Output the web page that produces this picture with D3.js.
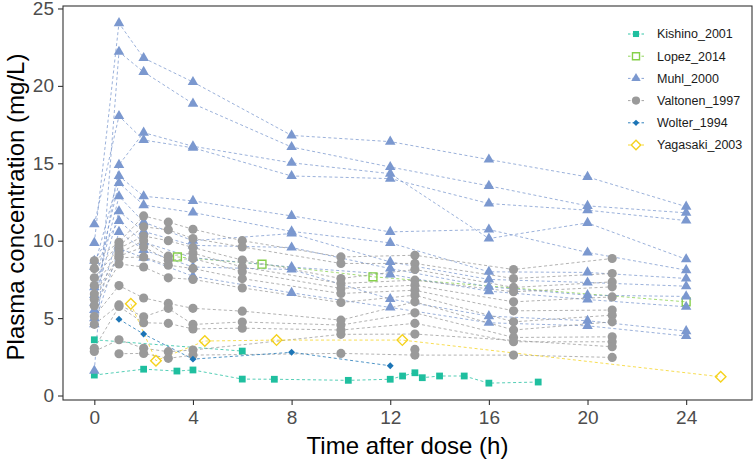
<!DOCTYPE html>
<html><head><meta charset="utf-8">
<script src="https://cdn.jsdelivr.net/npm/d3@7"></script>
<style>body{margin:0;background:#fff}svg{display:block;font-family:"Liberation Sans",Arial,sans-serif}</style>
</head><body><svg id="c" width="754" height="462"></svg>
<script>
// ---- data ----
const studies = ["Kishino_2001","Lopez_2014","Muhl_2000","Valtonen_1997","Wolter_1994","Yagasaki_2003"];
const colors = ["#1fbf9f","#86d04a","#7b98cf","#9a9a9a","#1c75b6","#f5d21c"];
const xTicks = [0,4,8,12,16,20,24];
const yTicks = [0,5,10,15,20,25];

const kishinoTimes = [[0,2,3.35,4,6,7.3,10.3,12,12.5,13,13.3,14,15,16,18],[0,6]];
const kishinoValues = [[1.32,1.7,1.58,1.65,1.06,1.05,0.98,1.05,1.26,1.47,1.15,1.26,1.26,0.8,0.87],[3.6,2.87]];

const lopezTimes = [[3.37,6.8,11.3,24]];
const lopezValues = [[8.95,8.48,7.67,6.05]];

const muhlT = [0,1,2,4,8,12,16,20,24];
const muhlValues = [
  [9.86,24.05,21.8,20.25,16.8,16.4,15.24,14.12,12.2],
  [1.6,22.2,20.9,18.85,16.05,14.76,13.54,12.25,11.8],
  [11.06,18.05,16.5,16.0,14.18,14.01,12.4,11.97,11.3],
  [5.52,14.9,16.98,16.1,15.03,14.33,10.14,11.15,8.8],
  [8.31,14.18,12.87,12.57,11.6,10.57,10.72,9.24,8.1],
  [7.0,13.73,12.3,11.82,10.6,9.86,7.99,7.95,7.56],
  [6.5,12.87,11.2,10.0,10.46,8.63,7.5,7.3,7.06],
  [6.0,11.9,10.6,9.7,9.56,8.2,7.02,6.48,6.4],
  [8.7,11.28,9.9,8.9,8.3,7.82,6.74,6.2,5.73],
  [5.0,10.57,9.4,8.3,8.14,6.23,5.13,4.83,4.16],
  [4.6,9.5,8.9,7.7,6.63,5.69,4.7,4.5,3.84]
];

const valtonenT = [0,1,2,3,4,6,10,13,17,21];
const valtonenValues = [
  [8.7,9.9,11.6,11.2,10.74,10.0,8.95,9.06,8.14,8.85],
  [8.2,9.7,10.9,10.7,10.14,9.6,8.53,8.53,7.56,7.88],
  [7.6,9.5,10.3,10.0,9.56,8.75,7.56,8.14,6.98,7.34],
  [7.1,9.2,10.0,9.0,9.2,8.3,7.24,7.45,6.7,7.02],
  [6.55,9.0,9.6,8.74,8.85,8.0,6.92,7.12,6.05,6.37],
  [6.2,8.9,8.95,8.42,8.2,7.55,6.59,6.8,5.47,5.52],
  [5.8,8.5,8.3,7.6,7.5,6.95,6.01,6.48,4.76,5.19],
  [5.1,7.1,6.3,5.95,5.63,5.45,4.87,6.05,4.23,4.76],
  [4.6,5.85,5.08,5.63,4.59,4.75,4.55,5.34,3.75,3.79],
  [3.05,5.75,4.7,4.66,4.3,4.35,4.23,4.66,3.47,3.47],
  [2.85,3.6,3.05,2.83,2.94,null,3.95,3.97,null,3.15],
  [null,2.7,2.72,2.4,2.61,null,2.72,2.61,2.61,2.46],
  [null,null,null,null,null,null,null,2.98,null,null]
];

const wolterTimes = [[1,2,4,8,12]];
const wolterValues = [[4.93,3.97,2.35,2.79,1.92]];

const yagasakiTimes = [[1.48,2.5,4.48,7.39,12.49,25.4]];
const yagasakiValues = [[5.92,2.25,3.52,3.58,3.58,1.21]];

// ---- build series ----
function pairs(times, values){
  return values.map((vals,i)=>{
    const ts = Array.isArray(times[0]) ? times[i] : times;
    return vals.map((v,j)=>({t:ts[j], v:v})).filter(d=>d.v!=null);
  });
}
const series = [
  {name:studies[0], subs:pairs(kishinoTimes,kishinoValues)},
  {name:studies[1], subs:pairs(lopezTimes,lopezValues)},
  {name:studies[2], subs:pairs(muhlT,muhlValues)},
  {name:studies[3], subs:pairs(valtonenT,valtonenValues)},
  {name:studies[4], subs:pairs(wolterTimes,wolterValues)},
  {name:studies[5], subs:pairs(yagasakiTimes,yagasakiValues)}
];

// ---- layout ----
const svg = d3.select("#c");
const L=63, R=752, T=6, B=400;
const x = d3.scaleLinear().domain([-1.27,26.67]).range([L,R]);
const y = d3.scaleLinear().domain([-0.29,25.16]).range([B,T]);

const symType = {
  "Kishino_2001":{type:d3.symbolSquare,size:46,fill:true,rot:0},
  "Lopez_2014":{type:d3.symbolSquare,size:62,fill:false,rot:0},
  "Muhl_2000":{type:d3.symbolTriangle,size:48,fill:true,rot:0},
  "Valtonen_1997":{type:d3.symbolCircle,size:66,fill:true,rot:0},
  "Wolter_1994":{type:d3.symbolSquare,size:24,fill:true,rot:45},
  "Yagasaki_2003":{type:d3.symbolSquare,size:56,fill:false,rot:45}
};
const colorOf = d3.scaleOrdinal().domain(studies).range(colors);

const line = d3.line().x(d=>x(d.t)).y(d=>y(d.v));
const gLines = svg.append("g");
series.forEach(s=>{
  gLines.selectAll(null).data(s.subs).join("path")
    .attr("d",line).attr("fill","none")
    .attr("stroke",colorOf(s.name)).attr("stroke-width",0.9)
    .attr("stroke-dasharray","3,2.5").attr("opacity",0.85);
});
const gPts = svg.append("g");
series.forEach(s=>{
  const st = symType[s.name];
  const sym = d3.symbol().type(st.type).size(st.size);
  const pts = s.subs.flat();
  gPts.selectAll(null).data(pts).join("path")
    .attr("d",sym)
    .attr("transform",d=>`translate(${x(d.t)},${y(d.v)}) rotate(${st.rot})`)
    .attr("fill",st.fill?colorOf(s.name):"none")
    .attr("stroke",st.fill?"none":colorOf(s.name))
    .attr("stroke-width",1.4);
});

// panel border
svg.append("rect").attr("x",L).attr("y",T).attr("width",R-L).attr("height",B-T)
  .attr("fill","none").attr("stroke","#333").attr("stroke-width",1.1);

// axes
const xAxis = svg.append("g").attr("transform",`translate(0,${B})`)
  .call(d3.axisBottom(x).tickValues(xTicks).tickSize(5).tickPadding(6));
const yAxis = svg.append("g").attr("transform",`translate(${L},0)`)
  .call(d3.axisLeft(y).tickValues(yTicks).tickSize(5).tickPadding(4));
[xAxis,yAxis].forEach(a=>{
  a.select(".domain").remove();
  a.selectAll(".tick line").attr("stroke","#333").attr("stroke-width",1.1);
  a.selectAll(".tick text").attr("fill","#4d4d4d").style("font-size","19px")
    .style("font-family","'Liberation Sans',Arial,sans-serif");
});

svg.append("text").attr("x",(L+R)/2).attr("y",454).attr("text-anchor","middle")
  .style("font-size","24px").attr("fill","#000").text("Time after dose (h)");
svg.append("text").attr("transform",`translate(24,207) rotate(-90)`)
  .attr("text-anchor","middle").style("font-size","24px").attr("fill","#000")
  .text("Plasma concentration (mg/L)");

// legend
const lg = svg.append("g");
studies.forEach((name,i)=>{
  const cy = 34 + i*22.2;
  const st = symType[name];
  const g = lg.append("g").attr("transform",`translate(0,${cy})`);
  g.append("line").attr("x1",628).attr("x2",644).attr("y1",0).attr("y2",0)
    .attr("stroke",colorOf(name)).attr("stroke-width",0.9).attr("stroke-dasharray","2.5,2");
  g.append("path").attr("d",d3.symbol().type(st.type).size(st.size*0.8))
    .attr("transform",`translate(636,0) rotate(${st.rot})`)
    .attr("fill",st.fill?colorOf(name):"#fff")
    .attr("stroke",st.fill?"none":colorOf(name)).attr("stroke-width",1.4);
  g.append("text").attr("x",657).attr("y",0).attr("dy","0.35em")
    .style("font-size","12.5px").attr("fill","#1a1a1a").text(name);
});
</script></body></html>
